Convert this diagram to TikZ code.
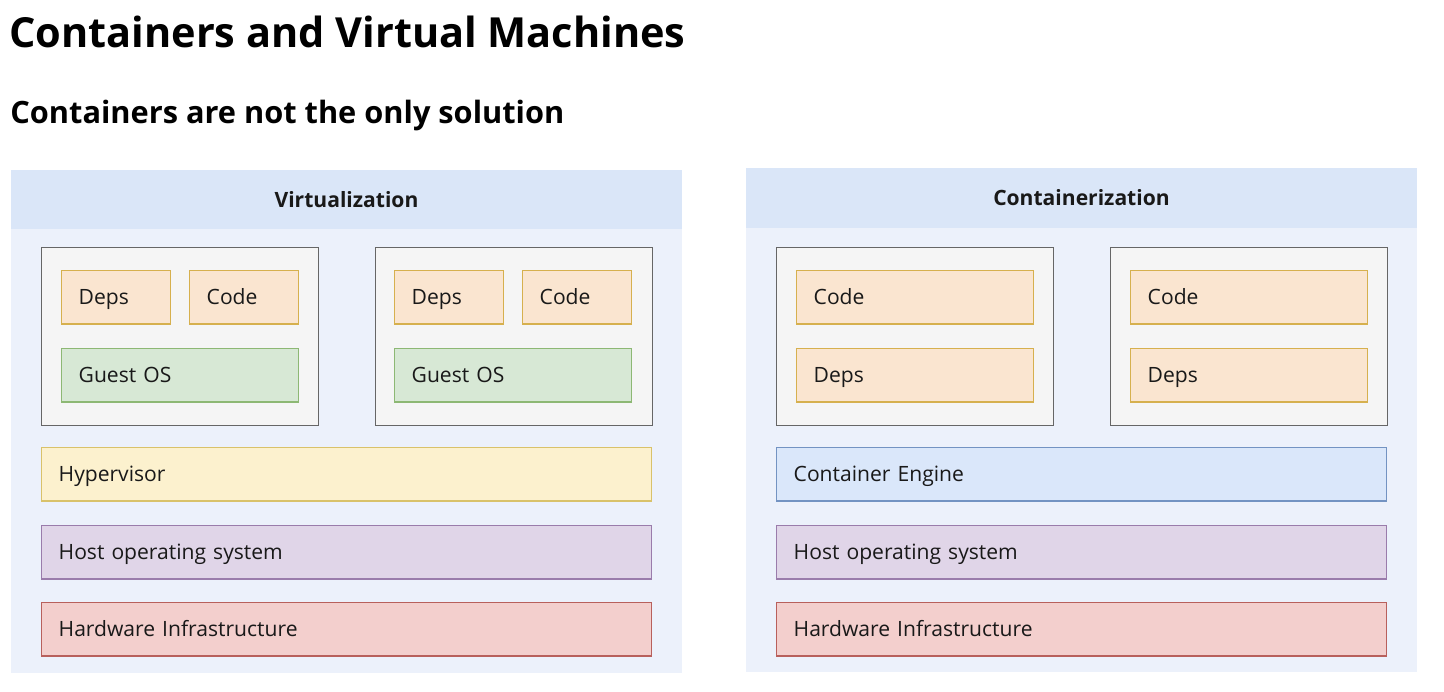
\documentclass[tikz,border=0pt]{standalone}
\usepackage{fontspec}
\setmainfont{Open Sans}
\usetikzlibrary{positioning}

\definecolor{bandblue}{HTML}{DAE6F8}
\definecolor{panelblue}{HTML}{ECF1FB}
\definecolor{vmfill}{HTML}{F5F5F5}
\definecolor{vmline}{HTML}{666666}
\definecolor{partfill}{HTML}{FAE5D0}
\definecolor{partline}{HTML}{D6B04E}
\definecolor{guestfill}{HTML}{D7E8D5}
\definecolor{guestline}{HTML}{8DB874}
\definecolor{hyperfill}{HTML}{FCF1CE}
\definecolor{hyperline}{HTML}{D9C26A}
\definecolor{engfill}{HTML}{DAE7FA}
\definecolor{engline}{HTML}{7393C2}
\definecolor{hostfill}{HTML}{E0D5E8}
\definecolor{hostline}{HTML}{9A7CAB}
\definecolor{hwfill}{HTML}{F3CFCD}
\definecolor{hwline}{HTML}{B8605C}

\begin{document}
\begin{tikzpicture}[
        x=0.02cm, y=-0.02cm,
        every node/.style={font=\fontsize{12}{14}\selectfont, text=black!90},
        layerbox/.style={draw, line width=0.8pt, anchor=north west, inner xsep=0.34cm, inner ysep=0pt,
            align=left, text height=10pt, text depth=2.2pt},
        vmbox/.style={layerbox, fill=vmfill, draw=vmline, minimum width=5.54cm, minimum height=3.56cm},
        part/.style={layerbox, fill=partfill, draw=partline, text width=1.5cm, minimum height=1.07cm},
        widepart/.style={layerbox, fill=partfill, draw=partline, text width=4.06cm, minimum height=1.07cm},
        guest/.style={layerbox, fill=guestfill, draw=guestline, text width=4.06cm, minimum height=1.07cm},
        layer/.style={layerbox, text width=11.52cm, minimum height=1.07cm},
        head/.style={font=\fontsize{12}{14}\selectfont\bfseries}
    ]
        \useasboundingbox (0,0) rectangle (1444,692);

        % titles
        \node[anchor=base west, inner sep=0, font=\fontsize{23.6}{28}\selectfont\bfseries, text=black] (title) at (9,48) {Containers and Virtual Machines};
        \node[anchor=base west, inner sep=0, font=\fontsize{17.5}{21}\selectfont\bfseries, text=black] (subtitle) at (10,124) {Containers are not the only solution};

        % panels
        \fill[panelblue] (11,170) rectangle (682,673);
        \fill[bandblue] (11,170) rectangle (682,229);
        \fill[panelblue] (746,168) rectangle (1417,672);
        \fill[bandblue] (746,168) rectangle (1417,228);
        \node[head] (virt) at (346.5,199.5) {Virtualization};
        \node[head] (contz) at (1081.5,198) {Containerization};

        % virtualization
        \node[vmbox] (vm1) at (41,247) {};
        \node[vmbox] (vm2) at (375,247) {};
        \node[part] (deps1) at (61,270) {Deps};
        \node[part] (code1) at (189,270) {Code};
        \node[guest] (guest1) at (61,348) {Guest OS};
        \node[part] (deps2) at (394,270) {Deps};
        \node[part] (code2) at (522,270) {Code};
        \node[guest] (guest2) at (394,348) {Guest OS};
        \node[layer, fill=hyperfill, draw=hyperline] (hyper) at (41,447) {Hypervisor};
        \node[layer, fill=hostfill, draw=hostline] (hostl) at (41,525) {Host operating system};
        \node[layer, fill=hwfill, draw=hwline] (hwl) at (41,602) {Hardware Infrastructure};

        % containerization
        \node[vmbox] (ctr1) at (776,247) {};
        \node[vmbox] (ctr2) at (1110,247) {};
        \node[widepart] (codea) at (796,270) {Code};
        \node[widepart] (depsa) at (796,348) {Deps};
        \node[widepart] (codeb) at (1130,270) {Code};
        \node[widepart] (depsb) at (1130,348) {Deps};
        \node[layer, fill=engfill, draw=engline] (engine) at (776,447) {Container Engine};
        \node[layer, fill=hostfill, draw=hostline] (hostr) at (776,525) {Host operating system};
        \node[layer, fill=hwfill, draw=hwline] (hwr) at (776,602) {Hardware Infrastructure};
    \end{tikzpicture}
\end{document}
